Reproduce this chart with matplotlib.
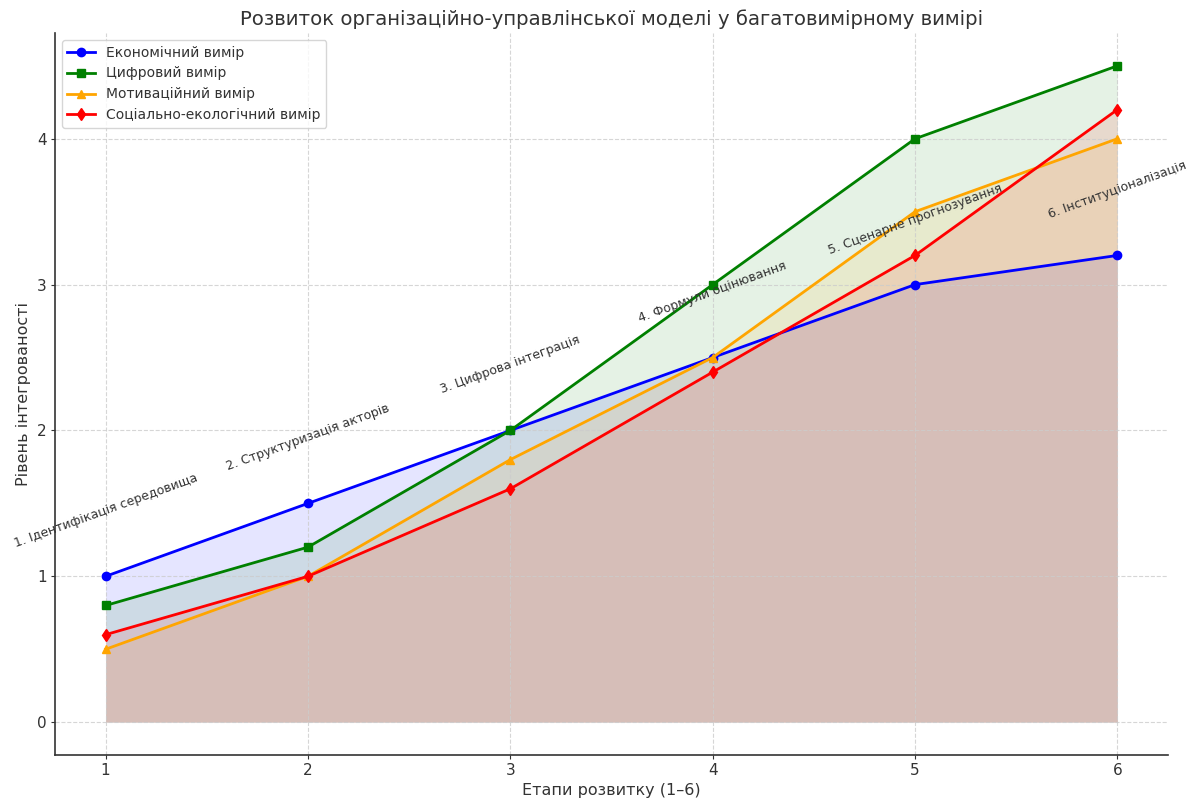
import matplotlib
matplotlib.use("Agg")
import matplotlib.pyplot as plt

stages = [1, 2, 3, 4, 5, 6]
economic = [1.0, 1.5, 2.0, 2.5, 3.0, 3.2]
digital = [0.8, 1.2, 2.0, 3.0, 4.0, 4.5]
motivational = [0.5, 1.0, 1.8, 2.5, 3.5, 4.0]
social_eco = [0.6, 1.0, 1.6, 2.4, 3.2, 4.2]
series_names = ["Економічний вимір", "Цифровий вимір", "Мотиваційний вимір", "Соціально-екологічний вимір"]
stage_labels = ["1. Ідентифікація середовища", "2. Структуризація акторів", "3. Цифрова інтеграція",
                "4. Формули оцінювання", "5. Сценарне прогнозування", "6. Інституціоналізація"]
label_offset = 0.45

plt.rcParams['font.family'] = ['DejaVu Sans']
plt.rcParams['text.color'] = '#333333'
plt.rcParams['axes.labelcolor'] = '#333333'
plt.rcParams['xtick.color'] = '#333333'
plt.rcParams['ytick.color'] = '#333333'

fig = plt.figure(figsize=(11.98, 8.0), dpi=100)
ax = fig.add_axes([55/1198, 45/800, (1168-55)/1198, (755-33)/800])

colors = ['blue', 'green', 'orange', 'red']
markers = ['o', 's', '^', 'd']
data = [economic, digital, motivational, social_eco]
for vals, name, c, m in zip(data, series_names, colors, markers):
    ax.plot(stages, vals, color=c, marker=m, lw=2, ms=6, label=name)
    ax.fill_between(stages, vals, 0, color=c, alpha=0.1, lw=0)

for x, lab, e in zip(stages, stage_labels, economic):
    ax.text(x, e + label_offset, lab, rotation=20, ha='center', va='center',
            fontsize=9, color='#333333', clip_on=False)

ax.set_title("Розвиток організаційно-управлінської моделі у багатовимірному вимірі", fontsize=14.2, color='#333333')
ax.set_xlabel("Етапи розвитку (1–6)", fontsize=11.5, labelpad=3)
ax.set_ylabel("Рівень інтегрованості", fontsize=11.5, labelpad=4)
ax.set_xticks(stages)
ax.set_yticks([0, 1, 2, 3, 4])
ax.tick_params(labelsize=11, length=3, pad=3)
ax.grid(True, linestyle='--', color='#cccccc', alpha=0.8, lw=0.8)
for s in ['top', 'right']:
    ax.spines[s].set_visible(False)
for s in ['left', 'bottom']:
    ax.spines[s].set_color('#333333')
    ax.spines[s].set_linewidth(1.2)
leg = ax.legend(loc='upper left', fontsize=10)
for t in leg.get_texts():
    t.set_color('#333333')

fig.savefig("out.png", dpi=100)
